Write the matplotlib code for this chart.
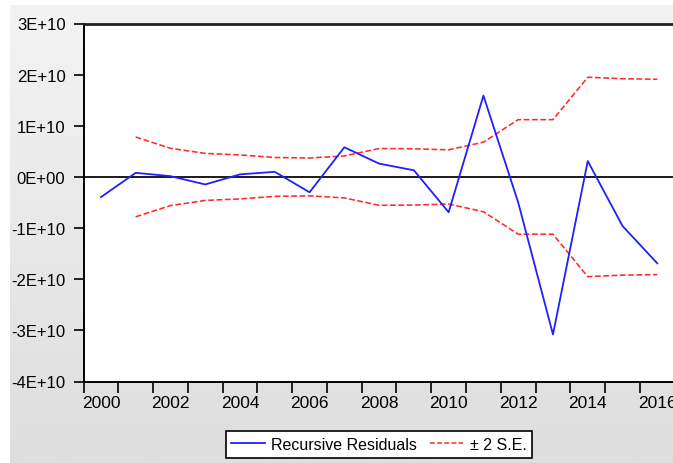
import numpy as np
import matplotlib
matplotlib.use("Agg")
import matplotlib.pyplot as plt
from matplotlib.lines import Line2D

plt.rcParams["font.family"] = ["Liberation Sans", "DejaVu Sans"]

# Recursive residuals, one per year
years = list(range(2000, 2017))
recursive_residuals = [-3.95e9, 0.8e9, 0.15e9, -1.47e9, 0.5e9, 1.0e9, -3.0e9,
                       5.8e9, 2.6e9, 1.3e9, -6.9e9, 15.9e9, -5.0e9, -30.8e9,
                       3.1e9, -9.6e9, -16.9e9]

# Two-standard-error band, starting one year later
band_years = list(range(2001, 2017))
two_se = [7.8e9, 5.6e9, 4.6e9, 4.3e9, 3.8e9, 3.7e9, 4.1e9, 5.55e9, 5.5e9,
          5.3e9, 6.8e9, 11.2e9, 11.2e9, 19.5e9, 19.2e9, 19.1e9]

y_ticks = [3e10, 2e10, 1e10, 0.0, -1e10, -2e10, -3e10, -4e10]
y_tick_labels = ["3E+10", "2E+10", "1E+10", "0E+00", "-1E+10", "-2E+10",
                 "-3E+10", "-4E+10"]
x_label_years = [2000, 2002, 2004, 2006, 2008, 2010, 2012, 2014, 2016]
x_tick_labels = [str(y) for y in x_label_years]

W, H = 673, 464
fig = plt.figure(figsize=(W / 100, H / 100), dpi=100, facecolor="white")

# grey panel with a soft vertical gradient
bg = fig.add_axes([10 / W, 0, 1 - 10 / W, (H - 6) / H], zorder=-10)
grad = np.linspace(0, 1, 256).reshape(-1, 1)
bg.imshow(grad, aspect="auto", cmap=matplotlib.colors.LinearSegmentedColormap.from_list(
    "panel", ["#f3f3f3", "#dedede"]), extent=[0, 1, 0, 1], origin="upper")
bg.set_axis_off()

left, right, top, bottom = 83.5, 674.7, 24.5, 382.5
ax = fig.add_axes([left / W, (H - bottom) / H, (right - left) / W, (bottom - top) / H])
ax.set_facecolor("white")

blue = "#1f1fff"
red = "#ff2a2a"
dash = [3.6, 1.6]

ax.axhline(0, color="#1a1a1a", lw=1.4, zorder=1)
ax.plot(years, recursive_residuals, color=blue, lw=1.3, zorder=3)
upper = np.array(two_se)
ax.plot(band_years, upper, color=red, lw=1.15, dashes=dash, zorder=2)
ax.plot(band_years, -upper, color=red, lw=1.15, dashes=dash, zorder=2)

ax.set_xlim(1999.5, 2016.5)
ax.set_ylim(-4e10, 3e10)

ax.set_yticks(y_ticks)
ax.set_yticklabels(y_tick_labels)
ax.tick_params(axis="y", direction="out", length=7, width=1.2, pad=6,
               labelsize=12, colors="black")

ax.set_xticks(np.arange(1999.5, 2017.0, 1.0))
ax.set_xticklabels([])
ax.tick_params(axis="x", which="major", direction="out", length=8, width=1.2)
ax.set_xticks(x_label_years, minor=True)
ax.set_xticklabels(x_tick_labels, minor=True)
ax.tick_params(axis="x", which="minor", length=0, pad=10, labelsize=12.5)

for side in ("left", "bottom"):
    ax.spines[side].set_linewidth(1.4)
    ax.spines[side].set_color("black")
ax.spines["top"].set_linewidth(2.0)
ax.spines["top"].set_color("#222222")
ax.spines["right"].set_visible(False)

handles = [Line2D([], [], color=blue, lw=1.3),
           Line2D([], [], color=red, lw=1.15, dashes=[3.0, 1.5])]
leg = fig.legend(handles, ["Recursive Residuals", "\u00b1 2 S.E."], loc="center",
                 bbox_to_anchor=(379 / W, 18.5 / H), ncol=2, frameon=True,
                 fancybox=False, edgecolor="black", framealpha=1, fontsize=11.5,
                 handlelength=2.1, handletextpad=0.4, columnspacing=0.8,
                 borderpad=0.35)
leg.get_frame().set_linewidth(1.2)

fig.savefig("out.png", dpi=100)
